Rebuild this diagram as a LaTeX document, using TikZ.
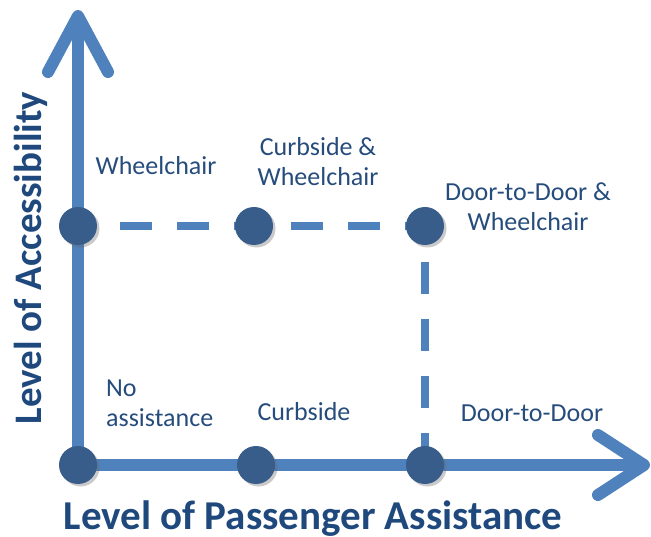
\documentclass[tikz,border=0pt]{standalone}
\usepackage{fontspec}
\setmainfont{Carlito}
\usetikzlibrary{arrows.meta,shadows,backgrounds}

\definecolor{axisblue}{RGB}{79,129,189}
\definecolor{dotblue}{RGB}{56,93,138}
\definecolor{textblue}{RGB}{38,76,124}
\definecolor{titleblue}{RGB}{31,73,125}

\tikzset{
  axis/.style={axisblue, line width=12pt, line cap=butt,
    -{Straight Barb[length=#1, width=60pt, round]}},
  level/.style={dotblue, draw=none, fill=dotblue, circle, minimum size=38pt, inner sep=0pt,
    drop shadow={shadow xshift=2.5pt, shadow yshift=-2.5pt, opacity=0.35, fill=black!60}},
  guide/.style={axisblue, line width=8pt, dash pattern=on 32pt off 25pt},
  lbl/.style={textblue, font=\fontsize{26}{30}\selectfont, align=center, inner sep=0pt},
  ttl/.style={titleblue, font=\fontsize{#1}{44}\selectfont\bfseries, inner sep=0pt}
}

\begin{document}
\begin{tikzpicture}[x=1pt, y=-1pt]
    \useasboundingbox (0,0) rectangle (651,537);

    % service levels
    \node[level] (noA)   at (78,465)  {};
    \node[level] (curb)  at (256,465) {};
    \node[level] (door)  at (425,465) {};
    \node[level] (wheel) at (78,226)  {};
    \node[level] (curbW) at (254,226) {};
    \node[level] (doorW) at (425,226) {};

    \coordinate (ytip) at (78,10);
    \coordinate (xtip) at (650,465);

    \begin{scope}[on background layer]
      \draw[axis=56pt] (noA.center) -- (ytip);
      \draw[axis=46pt] (noA.center) -- (xtip);
      \draw[guide, shorten <=42pt] (wheel.center) -- (doorW.center);
      \draw[guide, shorten <=36pt] (doorW.center) -- (door.center);
    \end{scope}

    % labels
    \node[lbl] (lWheel) at (156,166) {Wheelchair};
    \node[lbl] (lCurbW) at (318,162) {Curbside \&\\Wheelchair};
    \node[lbl] (lDoorW) at (528,207) {Door-to-Door \&\\Wheelchair};
    \node[lbl, align=left, anchor=west] (lNoA) at (106,403) {No\\assistance};
    \node[lbl] (lCurb) at (304,412) {Curbside};
    \node[lbl] (lDoor) at (532,413) {Door-to-Door};

    \node[ttl=41, anchor=base] (xTitle) at (313,529) {Level of Passenger Assistance};
    \node[ttl=39, rotate=90, anchor=base] (yTitle) at (41,258) {Level of Accessibility};
  \end{tikzpicture}
\end{document}
